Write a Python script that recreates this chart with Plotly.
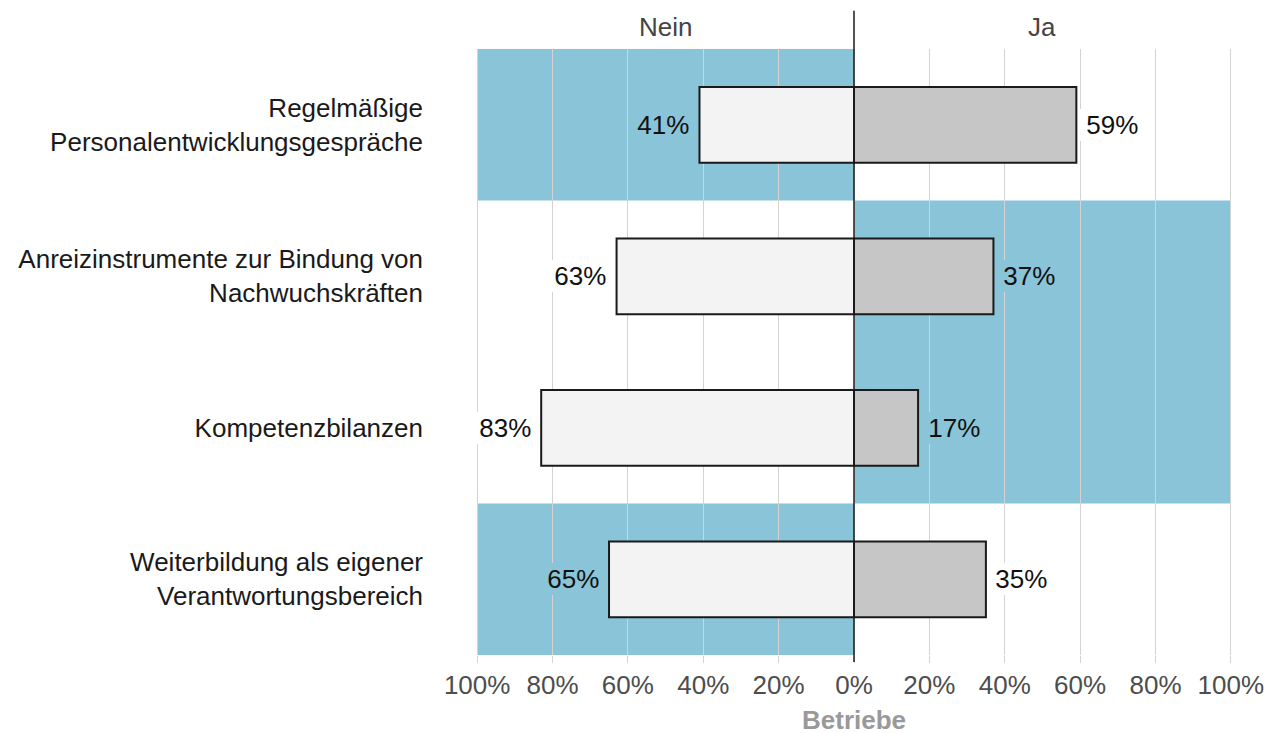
import plotly.graph_objects as go

categories = ["Regelmäßige<br>Personalentwicklungsgespräche",
              "Anreizinstrumente zur Bindung von<br>Nachwuchskräften",
              "Kompetenzbilanzen",
              "Weiterbildung als eigener<br>Verantwortungsbereich"]
nein = [41, 63, 83, 65]
ja = [59, 37, 17, 35]
highlight = ["Nein", "Ja", "Ja", "Nein"]
tick_vals = [-100, -80, -60, -40, -20, 0, 20, 40, 60, 80, 100]
tick_text = ["100%", "80%", "60%", "40%", "20%", "0%", "20%", "40%", "60%", "80%", "100%"]

BLUE = "#8AC4D8"
FONT = "Liberation Sans, Arial, sans-serif"

fig = go.Figure()
fig.add_trace(go.Bar(y=categories, x=[-v for v in nein], orientation="h", width=0.5,
                     marker=dict(color="#F3F3F3", line=dict(color="#1a1a1a", width=2)),
                     name="Nein", showlegend=False, hoverinfo="skip"))
fig.add_trace(go.Bar(y=categories, x=ja, orientation="h", width=0.5,
                     marker=dict(color="#C5C6C5", line=dict(color="#1a1a1a", width=2)),
                     name="Ja", showlegend=False, hoverinfo="skip"))

shapes = []
annotations = []
for i, (n, j, h) in enumerate(zip(nein, ja, highlight)):
    x0, x1 = (-100, 0) if h == "Nein" else (0, 100)
    shapes.append(dict(type="rect", xref="x", yref="y", x0=x0, x1=x1, y0=i - 0.5, y1=i + 0.5,
                       fillcolor=BLUE, line=dict(width=0), layer="below"))
    annotations.append(dict(x=-n, y=i, xref="x", yref="y", text="&nbsp;%d%%&nbsp;" % n,
                            showarrow=False, xanchor="right", yanchor="middle", xshift=-1.5,
                            bgcolor=BLUE if h == "Nein" else "white", borderpad=1, borderwidth=0,
                            font=dict(family=FONT, size=26, color="#111111")))
    annotations.append(dict(x=j, y=i, xref="x", yref="y", text="&nbsp;%d%%&nbsp;" % j,
                            showarrow=False, xanchor="left", yanchor="middle", xshift=1.5,
                            bgcolor=BLUE if h == "Ja" else "white", borderpad=1, borderwidth=0,
                            font=dict(family=FONT, size=26, color="#111111")))

# zero line extending above plot
shapes.append(dict(type="line", xref="x", yref="paper", x0=0, x1=0, y0=-7 / 606, y1=1.063,
                   line=dict(color="#1a1a1a", width=1.5), layer="above"))

annotations.append(dict(x=-50, y=1.0363, xref="x", yref="paper", text="Nein", showarrow=False,
                        xanchor="center", yanchor="middle",
                        font=dict(family=FONT, size=26, color="#444444")))
annotations.append(dict(x=50, y=1.0363, xref="x", yref="paper", text="Ja", showarrow=False,
                        xanchor="center", yanchor="middle",
                        font=dict(family=FONT, size=26, color="#444444")))
annotations.append(dict(x=0, y=-0.108, xref="x", yref="paper", text="<b>Betriebe</b>", showarrow=False,
                        xanchor="center", yanchor="middle",
                        font=dict(family=FONT, size=26, color="#999999")))

fig.update_layout(
    width=1267, height=725,
    margin=dict(l=468, r=43, t=41, b=78),
    paper_bgcolor="white", plot_bgcolor="white",
    barmode="relative",
    shapes=shapes, annotations=annotations,
    font=dict(family=FONT, size=26, color="#111111"),
    xaxis=dict(range=[-100.3, 100.3], tickvals=tick_vals, ticktext=tick_text, automargin=False,
               showgrid=True, gridcolor="#D3D3D3", gridwidth=1, zeroline=False,
               ticks="outside", ticklen=7, tickcolor="#D3D3D3", tickwidth=1,
               tickfont=dict(family=FONT, size=26, color="#4D4D4D"), showline=False, fixedrange=True),
    yaxis=dict(range=[3.5, -0.5], showgrid=False, zeroline=False, ticks="", showline=False,
               ticklabelstandoff=52, automargin=False,
               tickfont=dict(family=FONT, size=26, color="#1a1a1a"), fixedrange=True),
)

fig.write_html("out.html")
